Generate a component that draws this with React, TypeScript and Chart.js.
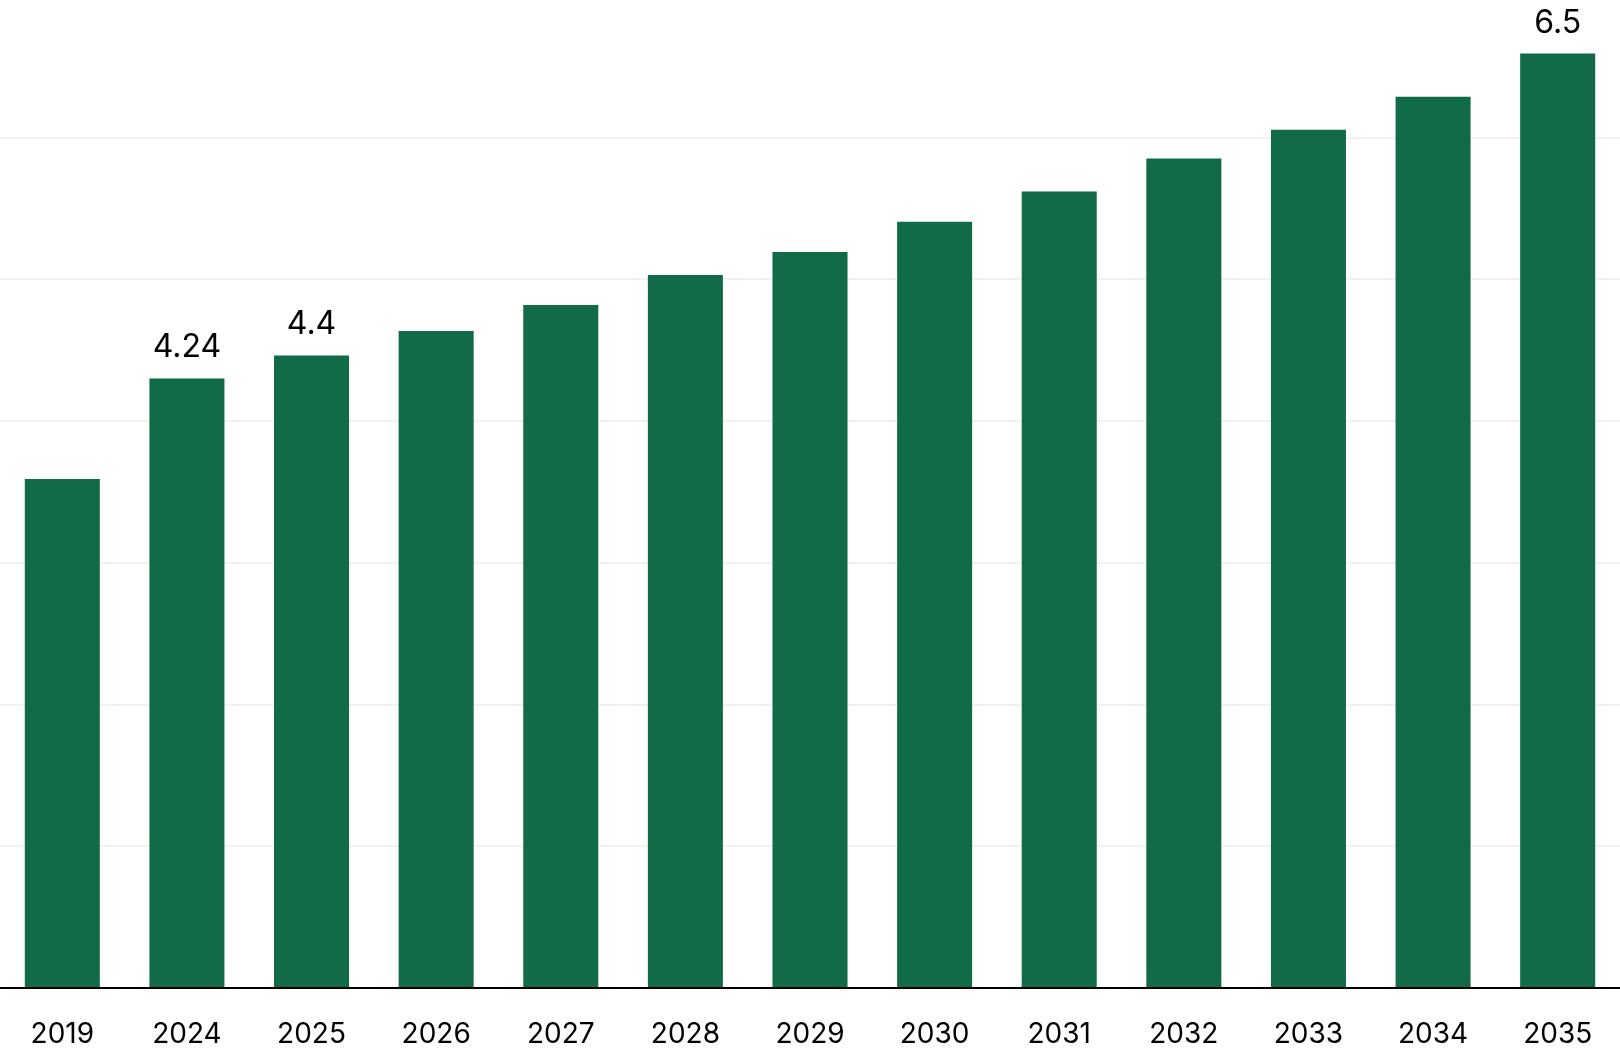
import React, { useEffect, useRef } from 'react';
import { Chart, registerables, Plugin } from 'chart.js';

Chart.register(...registerables);

const years = ['2019', '2024', '2025', '2026', '2027', '2028', '2029', '2030', '2031', '2032', '2033', '2034', '2035'];
const values = [3.54, 4.24, 4.4, 4.57, 4.75, 4.96, 5.12, 5.33, 5.54, 5.77, 5.97, 6.2, 6.5];
const labelledYears = ['2024', '2025', '2035'];

const FONT = 'Inter, "Noto Sans", sans-serif';
const BAR_GREEN = '#116b46';

// value text above the few highlighted bars
const valueLabels: Plugin<'bar'> = {
  id: 'valueLabels',
  afterDatasetsDraw(chart) {
    const { ctx } = chart;
    const meta = chart.getDatasetMeta(0);
    ctx.save();
    ctx.font = `32px ${FONT}`;
    ctx.fillStyle = '#000';
    ctx.textAlign = 'center';
    ctx.textBaseline = 'alphabetic';
    meta.data.forEach((bar, i) => {
      if (!labelledYears.includes(years[i])) return;
      ctx.fillText(String(values[i]), bar.x, bar.y - 21);
    });
    ctx.restore();
  },
};

const App: React.FC = () => {
  const canvasRef = useRef<HTMLCanvasElement | null>(null);
  const chartRef = useRef<Chart | null>(null);

  useEffect(() => {
    if (!canvasRef.current) return;

    chartRef.current = new Chart(canvasRef.current, {
      type: 'bar',
      data: {
        labels: years,
        datasets: [
          {
            data: values,
            backgroundColor: BAR_GREEN,
            barPercentage: 0.602,
            categoryPercentage: 1,
          },
        ],
      },
      options: {
        responsive: false,
        animation: false,
        layout: { padding: 0 },
        plugins: {
          legend: { display: false },
          tooltip: { enabled: false },
        },
        scales: {
          x: {
            grid: { display: false },
            border: { display: true, color: '#000', width: 2 },
            ticks: {
              color: '#000',
              padding: 22,
              font: { family: FONT, size: 28 },
              maxRotation: 0,
            },
            afterFit: (scale) => {
              scale.height = 73;
            },
          },
          y: {
            min: 0,
            max: 6.9,
            ticks: { display: false, count: 8 },
            grid: { color: '#f2f2f2', lineWidth: 2, drawTicks: false },
            border: { display: false },
            afterFit: (scale) => {
              scale.width = 0;
            },
          },
        },
      },
      plugins: [valueLabels],
    });

    return () => {
      chartRef.current?.destroy();
      chartRef.current = null;
    };
  }, []);

  return (
    <div style={{ position: 'fixed', left: 0, top: -4, width: 1620, height: 1065, background: '#fff' }}>
      <canvas ref={canvasRef} width={1620} height={1065} style={{ width: 1620, height: 1065 }} />
    </div>
  );
};

export default App;
